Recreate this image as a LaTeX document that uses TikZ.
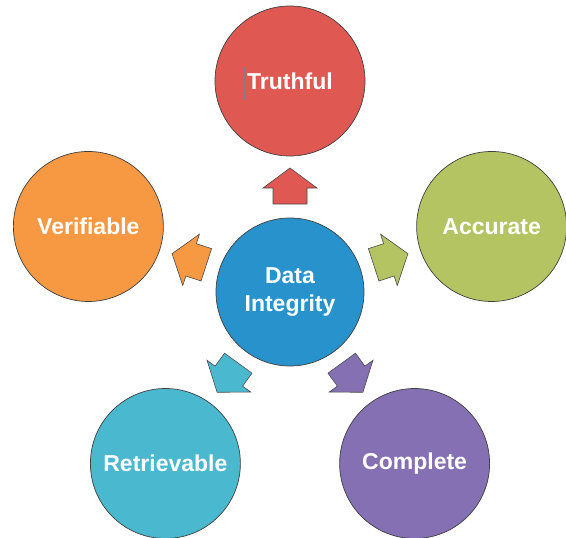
\documentclass[tikz,border=0pt]{standalone}
\usepackage{fontspec}
\setmainfont{Liberation Sans}
\usetikzlibrary{calc}
\definecolor{cblue}{RGB}{40,146,204}
\definecolor{cred}{RGB}{224,88,82}
\definecolor{corange}{RGB}{247,153,66}
\definecolor{cgreen}{RGB}{181,196,98}
\definecolor{cteal}{RGB}{74,184,206}
\definecolor{cpurple}{RGB}{132,112,178}
\begin{document}
\begin{tikzpicture}[x=1pt,y=1pt,
  bubble/.style={circle, draw=black!75, line width=0.7pt, minimum size=150pt, inner sep=0pt,
    text=white, font=\fontsize{23}{28}\selectfont\bfseries, align=center},
  blockarrow/.style={draw=black!70, line width=0.6pt, line join=miter}]
\useasboundingbox (0,0) rectangle (566,-538);
\fill[white] (0,0) rectangle (566,-538);
\node[bubble, fill=cblue, minimum size=148pt] (c) at (290,-292) {Data\\Integrity};
\node[bubble, fill=cred] (t) at ($(c)+(90:211)$) {Truthful};
\node[bubble, fill=cgreen] (a) at ($(c)+(18:212)$) {Accurate};
\node[bubble, fill=corange] (v) at ($(c)+(162:212)$) {Verifiable};
\node[bubble, fill=cteal] (r) at ($(c)+(234:212)$) {Retrievable};
\node[bubble, fill=cpurple] (p) at ($(c)+(306:212)$) {Complete};
\foreach \ang/\col in {90/cred, 18/cgreen, 162/corange, 234/cteal, 306/cpurple}{
  \draw[blockarrow, fill=\col, shift={(290,-292)}, rotate=\ang-90, shift={(0,106)}]
    (0,18) -- (27,-2) -- (17,-2) -- (17,-18) -- (-17,-18) -- (-17,-2) -- (-27,-2) -- cycle;
}
\draw[gray, line width=0.8pt] ([xshift=-46pt,yshift=14pt]t.center) -- ([xshift=-46pt,yshift=-19pt]t.center);
\end{tikzpicture}
\end{document}
